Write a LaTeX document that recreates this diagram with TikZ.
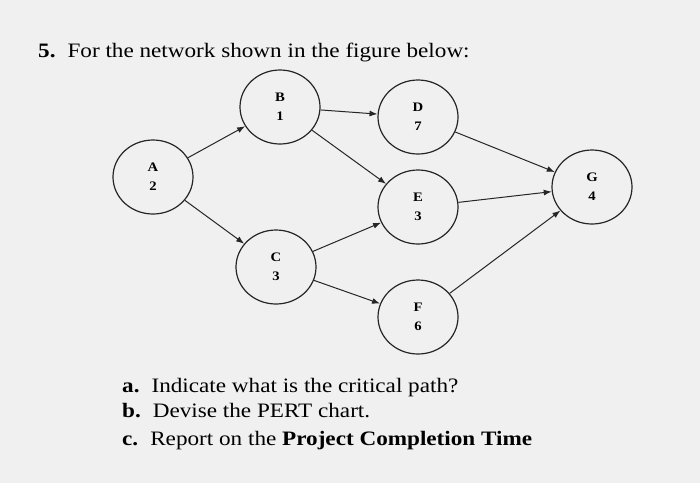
\documentclass[tikz,border=0pt]{standalone}
\usepackage{fontspec}
\setmainfont{Liberation Serif}[FakeStretch=1.13]
\usetikzlibrary{shapes.geometric,arrows.meta}
\begin{document}
\begin{tikzpicture}[x=1pt,y=-1pt,
  ev/.style={ellipse,draw=black!85,line width=1.2pt,minimum width=80pt,minimum height=74pt,inner sep=0pt,align=center,font=\bfseries\fontsize{13}{19}\selectfont},
  con/.style={-{Latex[length=8pt,width=6pt]},line width=1pt,black!85},
  txt/.style={anchor=base west,inner sep=0pt,font=\fontsize{20.5}{24}\selectfont}]
\fill[black!6] (0,0) rectangle (700,483);
\useasboundingbox (0,0) rectangle (700,483);
\node[txt] (t) at (38,57) {\textbf{5.}\hspace{12pt}For the network shown in the figure below:};
\node[ev] (A) at (153,177) {A\\2};
\node[ev] (B) at (280,107) {B\\1};
\node[ev] (D) at (418,117) {D\\7};
\node[ev] (E) at (418,207) {E\\3};
\node[ev] (C) at (276,267) {C\\3};
\node[ev] (F) at (418,317) {F\\6};
\node[ev] (G) at (592,187) {G\\4};
\draw[con] (A) -- (B);
\draw[con] (A) -- (C);
\draw[con] (B) -- (D);
\draw[con] (B) -- (E);
\draw[con] (C) -- (E);
\draw[con] (C) -- (F);
\draw[con] (D) -- (G);
\draw[con] (E) -- (G);
\draw[con] (F) -- (G);
\node[txt] (a) at (122,392) {\textbf{a.}\hspace{12pt}Indicate what is the critical path?};
\node[txt] (b) at (122,417) {\textbf{b.}\hspace{12pt}Devise the PERT chart.};
\node[txt] (c) at (122,445) {\textbf{c.}\hspace{12pt}Report on the \textbf{Project Completion Time}};
\end{tikzpicture}
\end{document}
